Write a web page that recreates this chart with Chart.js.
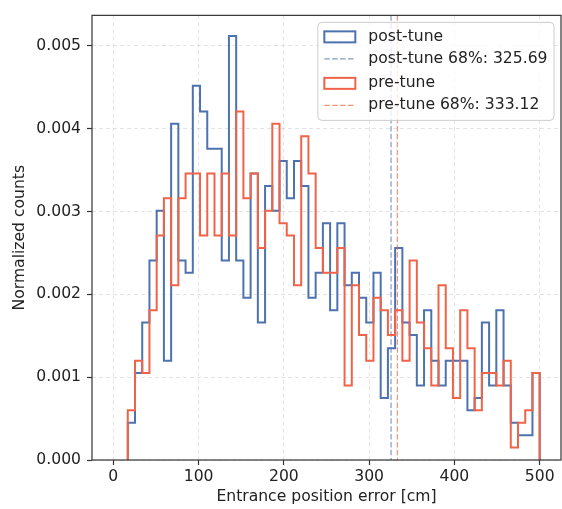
<!DOCTYPE html>
<html>
<head>
<meta charset="utf-8">
<script src="https://cdn.jsdelivr.net/npm/chart.js@4.4.1/dist/chart.umd.min.js"></script>
<style>
  html, body { margin: 0; padding: 0; background: #fff; }
</style>
</head>
<body>
<canvas id="histChart" width="562" height="509"></canvas>
<script>
// histogram binning: 59 equal bins over [0, 500] cm
const binCount = 59;
const binRange = [0, 500];

// normalized counts per bin
const postTune = [0, 0, 0.00045, 0.00105, 0.00166, 0.00241, 0.00301, 0.00120, 0.00406, 0.00241,
  0.00226, 0.00452, 0.00421, 0.00376, 0.00376, 0.00241, 0.00512, 0.00241, 0.00196, 0.00346,
  0.00166, 0.00331, 0.00301, 0.00361, 0.00316, 0.00361, 0.00331, 0.00196, 0.00226, 0.00286,
  0.00181, 0.00286, 0.00211, 0.00226, 0.00196, 0.00166, 0.00226, 0.00075, 0.00135, 0.00256,
  0.00166, 0.00151, 0.00090, 0.00181, 0.00120, 0.00090, 0.00120, 0.00120, 0.00120, 0.00060,
  0.00075, 0.00166, 0.00090, 0.00181, 0.00090, 0.00045, 0.00030, 0.00030, 0.00105];

const preTune = [0, 0, 0.00060, 0.00120, 0.00105, 0.00181, 0.00271, 0.00316, 0.00211, 0.00316,
  0.00346, 0.00346, 0.00271, 0.00346, 0.00271, 0.00346, 0.00271, 0.00421, 0.00316, 0.00346,
  0.00256, 0.00301, 0.00406, 0.00286, 0.00271, 0.00211, 0.00391, 0.00346, 0.00256, 0.00226,
  0.00226, 0.00256, 0.00090, 0.00211, 0.00151, 0.00120, 0.00196, 0.00181, 0.00151, 0.00181,
  0.00120, 0.00241, 0.00166, 0.00135, 0.00090, 0.00211, 0.00135, 0.00075, 0.00181, 0.00135,
  0.00060, 0.00105, 0.00105, 0.00090, 0.00120, 0.00015, 0.00045, 0.00060, 0.00105];

// 68% containment values
const postTune68 = 325.69;
const preTune68 = 333.12;

const xTicks = [0, 100, 200, 300, 400, 500];
const yTicks = [0, 0.001, 0.002, 0.003, 0.004, 0.005];

const postColor = '#4c72b0';
const preColor = '#ef6449';
const textColor = '#222';
const fontSize = 15.6;

Chart.defaults.font.family = "'DejaVu Sans', sans-serif";
Chart.defaults.font.size = fontSize;
Chart.defaults.color = textColor;

const binEdges = Array.from({ length: binCount + 1 },
  (_, i) => binRange[0] + i * (binRange[1] - binRange[0]) / binCount);

// outline of a step histogram, starting at the first filled bin
function stepPoints(values) {
  const first = values.findIndex(v => v > 0);
  const pts = [{ x: binEdges[first], y: 0 }];
  for (let i = first; i < values.length; i++) {
    pts.push({ x: binEdges[i], y: values[i] });
  }
  pts.push({ x: binEdges[values.length], y: values[values.length - 1] });
  pts.push({ x: binEdges[values.length], y: 0 });
  return pts;
}

const quantileLines = [
  { value: postTune68, color: postColor },
  { value: preTune68, color: preColor }
];

const legendItems = [
  { label: 'post-tune', color: postColor, kind: 'patch' },
  { label: 'post-tune 68%: ' + postTune68.toFixed(2), color: postColor, kind: 'dash' },
  { label: 'pre-tune', color: preColor, kind: 'patch' },
  { label: 'pre-tune 68%: ' + preTune68.toFixed(2), color: preColor, kind: 'dash' }
];

// dashed vertical line drawn right after its own histogram
const quantilePlugin = {
  id: 'quantileLines',
  afterDatasetDraw(chart, args) {
    const line = quantileLines[args.index];
    if (!line) return;
    const { ctx, chartArea } = chart;
    const x = chart.scales.x.getPixelForValue(line.value);
    ctx.save();
    ctx.globalAlpha = 0.7;
    ctx.strokeStyle = line.color;
    ctx.lineWidth = 1.2;
    ctx.setLineDash([5.5, 2.4]);
    ctx.beginPath();
    ctx.moveTo(x, chartArea.top);
    ctx.lineTo(x, chartArea.bottom);
    ctx.stroke();
    ctx.restore();
  }
};

// box around the plot area
const framePlugin = {
  id: 'frame',
  afterDatasetsDraw(chart) {
    const { ctx, chartArea: a } = chart;
    ctx.save();
    ctx.strokeStyle = '#333';
    ctx.lineWidth = 1.2;
    ctx.strokeRect(a.left, a.top, a.right - a.left, a.bottom - a.top);
    ctx.restore();
  }
};

// legend box in the upper right corner
const legendPlugin = {
  id: 'boxLegend',
  afterDraw(chart) {
    const { ctx, chartArea: a } = chart;
    const pad = 6.5, handleW = 31, gap = 13;
    const rows = [14.5, 36.5, 61, 83];
    ctx.save();
    ctx.font = fontSize + "px 'DejaVu Sans'";
    const maxW = Math.max(...legendItems.map(it => ctx.measureText(it.label).width));
    const right = a.right - 7;
    const top = a.top + 7;
    const left = right - pad - maxW - gap - handleW - pad;
    const height = 98;

    ctx.beginPath();
    ctx.roundRect(left, top, right - left, height, 4);
    ctx.fillStyle = 'rgba(255,255,255,0.8)';
    ctx.fill();
    ctx.strokeStyle = '#cccccc';
    ctx.lineWidth = 1;
    ctx.stroke();

    legendItems.forEach((it, i) => {
      const y = top + rows[i];
      const hx = left + pad;
      ctx.save();
      ctx.strokeStyle = it.color;
      if (it.kind === 'patch') {
        ctx.lineWidth = 2;
        ctx.strokeRect(hx, y - 5.5, handleW, 11);
      } else {
        ctx.globalAlpha = 0.7;
        ctx.lineWidth = 1.2;
        ctx.setLineDash([5.5, 2.4]);
        ctx.beginPath();
        ctx.moveTo(hx, y);
        ctx.lineTo(hx + handleW, y);
        ctx.stroke();
      }
      ctx.restore();
      ctx.fillStyle = textColor;
      ctx.textBaseline = 'middle';
      ctx.textAlign = 'left';
      ctx.fillText(it.label, hx + handleW + gap, y);
    });
    ctx.restore();
  }
};

const gridColor = 'rgba(176,176,176,0.45)';

const ctx = document.getElementById('histChart').getContext('2d');

new Chart(ctx, {
  type: 'line',
  data: {
    datasets: [{
      label: 'post-tune',
      data: stepPoints(postTune),
      borderColor: postColor,
      borderWidth: 2,
      stepped: 'before',
      pointRadius: 0,
      fill: false,
      order: 2
    }, {
      label: 'pre-tune',
      data: stepPoints(preTune),
      borderColor: preColor,
      borderWidth: 2,
      stepped: 'before',
      pointRadius: 0,
      fill: false,
      order: 1
    }]
  },
  options: {
    responsive: false,
    devicePixelRatio: 1,
    animation: false,
    layout: { padding: { top: 10, right: 1, left: 0, bottom: 0 } },
    plugins: {
      legend: { display: false },
      tooltip: { enabled: false }
    },
    scales: {
      x: {
        type: 'linear',
        min: -25,
        max: 525,
        afterBuildTicks: scale => { scale.ticks = xTicks.map(v => ({ value: v })); },
        afterFit: scale => { scale.height = 49; },
        grid: {
          color: gridColor,
          lineWidth: 0.8,
          tickLength: 5,
          tickColor: '#333',
          tickWidth: 1.2,
          tickBorderDash: []
        },
        border: { display: false, dash: [4, 3] },
        ticks: {
          padding: 3,
          maxRotation: 0,
          autoSkip: false,
          callback: v => String(v)
        },
        title: {
          display: true,
          text: 'Entrance position error [cm]',
          padding: { top: 0, bottom: 3 }
        }
      },
      y: {
        min: 0,
        max: 0.00537,
        afterBuildTicks: scale => { scale.ticks = yTicks.map(v => ({ value: v })); },
        afterFit: scale => { scale.width = 92; },
        grid: {
          color: gridColor,
          lineWidth: 0.8,
          tickLength: 5,
          tickColor: '#333',
          tickWidth: 1.2,
          tickBorderDash: []
        },
        border: { display: false, dash: [4, 3] },
        ticks: {
          padding: 6,
          autoSkip: false,
          callback: v => v.toFixed(3)
        },
        title: {
          display: true,
          text: 'Normalized counts',
          padding: { top: 11, bottom: 0 }
        }
      }
    }
  },
  plugins: [quantilePlugin, framePlugin, legendPlugin]
});
</script>
</body>
</html>
